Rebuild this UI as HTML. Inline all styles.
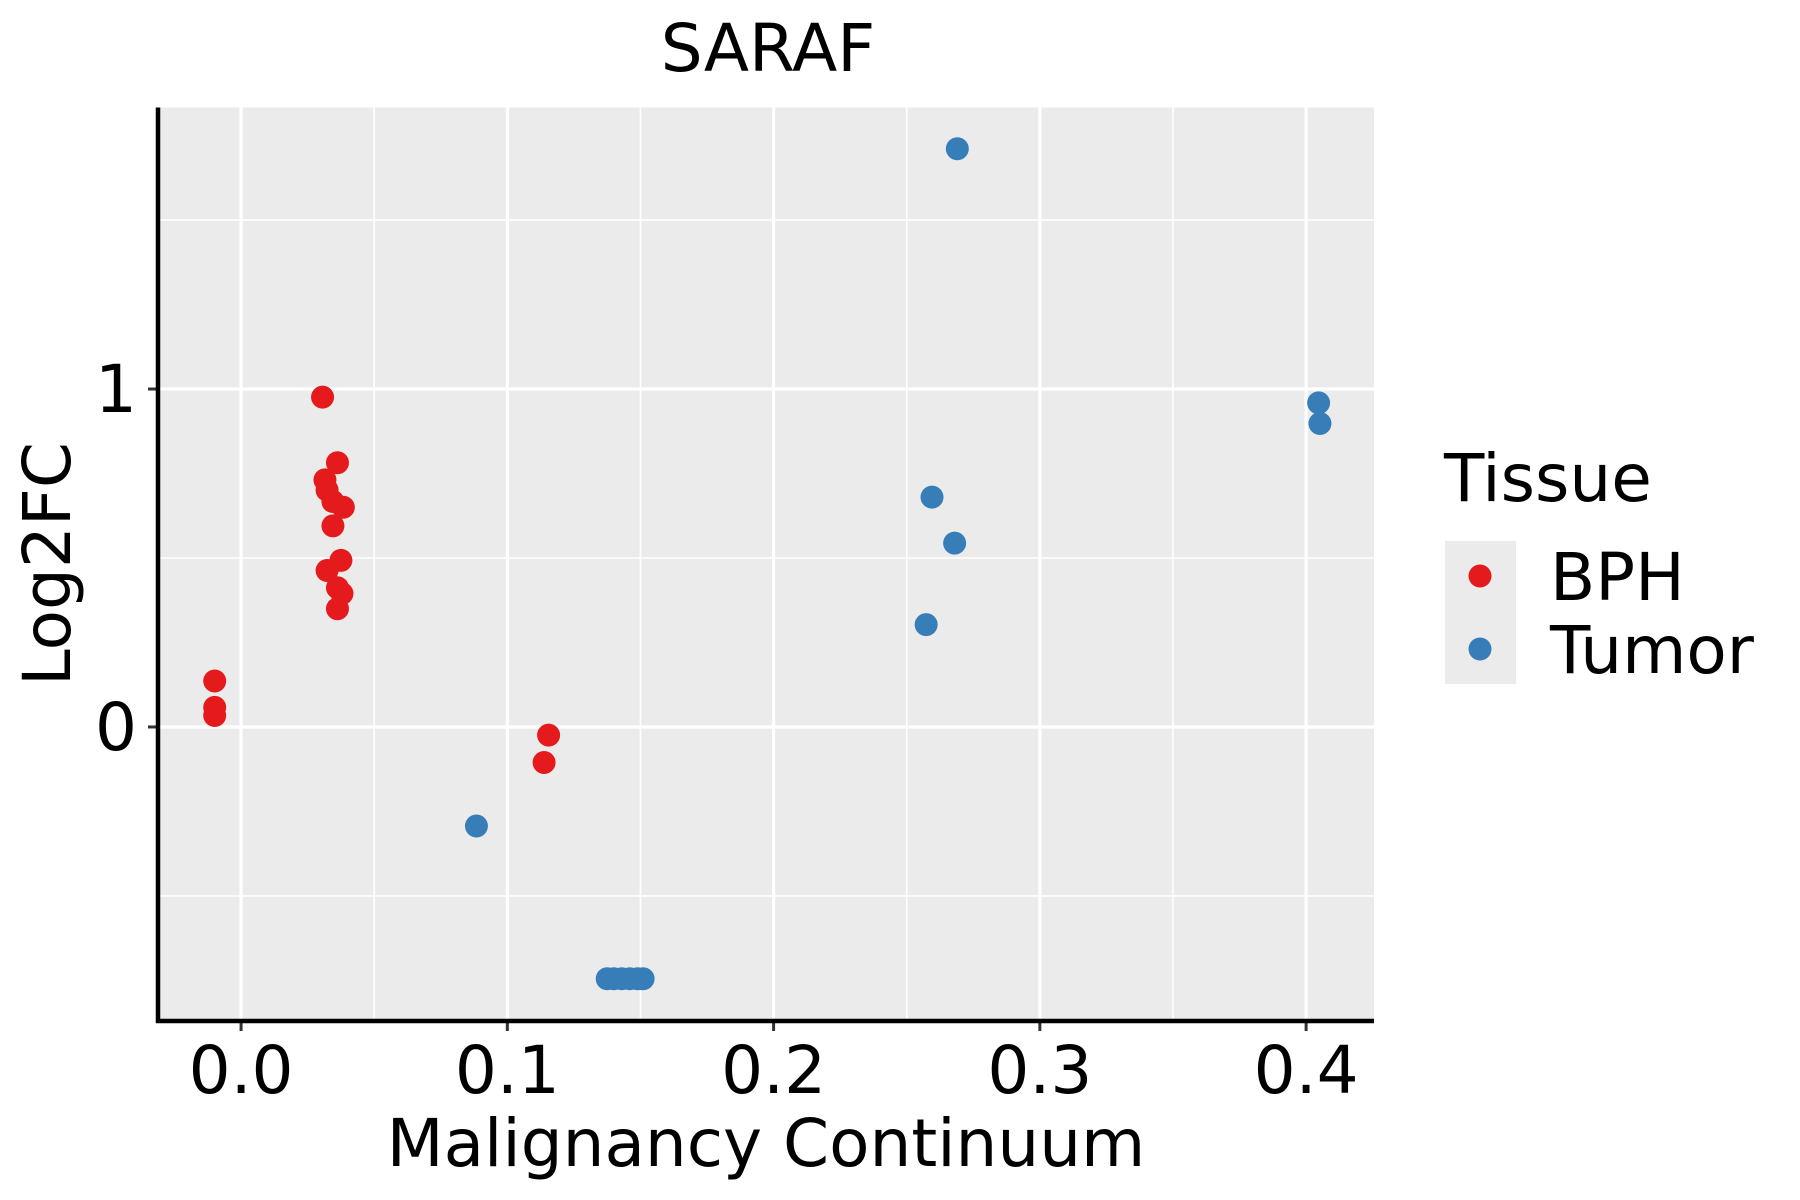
<!DOCTYPE html>
<html><head><meta charset="utf-8"><style>
html,body{margin:0;padding:0;background:#fff;}
svg{display:block;font-family:"DejaVu Sans","Liberation Sans",sans-serif;}
</style></head><body>
<svg id="chart" width="1800" height="1200" viewBox="0 0 1800 1200">
<rect x="0" y="0" width="1800" height="1200" fill="#fff"/>
<text x="768" y="71" font-size="66" text-anchor="middle">SARAF</text>
<g id="grid"></g>
<g id="points"></g>
<g id="axes"></g>
<text x="766" y="1166" font-size="66" text-anchor="middle">Malignancy Continuum</text>
<text transform="translate(70,564) rotate(-90)" font-size="66" text-anchor="middle">Log2FC</text>
<g>
<text x="1444" y="501" font-size="66">Tissue</text>
<rect x="1445" y="541" width="71" height="143" fill="#ebebeb"/>
<circle cx="1480" cy="576" r="11.5" fill="#e41a1c"/>
<circle cx="1480" cy="649" r="11.5" fill="#377eb8"/>
<text x="1550" y="600" font-size="66">BPH</text>
<text x="1550" y="673" font-size="66">Tumor</text>
</g>
</svg>
<script>
const bphX=[-0.0099,-0.0099,-0.0099,0.0306,0.0362,0.0315,0.0323,0.0345,0.0384,0.0345,0.0375,0.0323,0.0362,0.0379,0.0362,0.1155,0.1138];
const bphY=[0.136,0.058,0.034,0.976,0.782,0.731,0.701,0.667,0.650,0.595,0.493,0.463,0.412,0.395,0.350,-0.024,-0.105];
const tumorX=[0.269,0.4047,0.4052,0.2595,0.268,0.2573,0.0884,0.1375,0.140,0.143,0.146,0.149,0.151];
const tumorY=[1.711,0.959,0.898,0.680,0.544,0.303,-0.293,-0.745,-0.745,-0.745,-0.745,-0.745,-0.745];
const xTicks=[0.0,0.1,0.2,0.3,0.4];
const xTickLabels=["0.0","0.1","0.2","0.3","0.4"];
const xMinor=[0.05,0.15,0.25,0.35];
const yTicks=[0,1];
const yTickLabels=["0","1"];
const yMinor=[-0.5,0.5,1.5];

const L=158,R=1374,T=107.5,B=1021;
const xMin=-0.0312,xMax=0.4255,yMin=-0.87,yMax=1.833;
function sx(v){return L+(v-xMin)/(xMax-xMin)*(R-L);}
function sy(v){return B-(v-yMin)/(yMax-yMin)*(B-T);}
const NS="http://www.w3.org/2000/svg";
function mk(tag,attrs,parent){const e=document.createElementNS(NS,tag);for(const k in attrs)e.setAttribute(k,attrs[k]);parent.appendChild(e);return e;}
const grid=document.getElementById('grid'),pts=document.getElementById('points'),axes=document.getElementById('axes');
let p=mk('rect',{x:L,y:T,width:R-L,height:B-T,fill:'#ebebeb'},grid);


xMinor.forEach(v=>{const e=mk('line',{x1:sx(v),x2:sx(v),y1:T,y2:B,stroke:'#fff','stroke-width':1.6},grid);

});
yMinor.forEach(v=>{const e=mk('line',{x1:L,x2:R,y1:sy(v),y2:sy(v),stroke:'#fff','stroke-width':1.6},grid);

});
xTicks.forEach((v,i)=>{const e=mk('line',{x1:sx(v),x2:sx(v),y1:T,y2:B,stroke:'#fff','stroke-width':3.2},grid);


const t=mk('line',{x1:sx(v),x2:sx(v),y1:B,y2:B+10,stroke:'#333','stroke-width':3},axes);


const l=mk('text',{x:sx(v),y:1093,'font-size':66,'text-anchor':'middle',fill:'#000'},axes);
l.textContent=xTickLabels[i];

});
yTicks.forEach((v,i)=>{const e=mk('line',{x1:L,x2:R,y1:sy(v),y2:sy(v),stroke:'#fff','stroke-width':3.2},grid);


const t=mk('line',{x1:L-10,x2:L,y1:sy(v),y2:sy(v),stroke:'#333','stroke-width':3},axes);


const l=mk('text',{x:137,y:sy(v)+23,'font-size':66,'text-anchor':'end',fill:'#000'},axes);
l.textContent=yTickLabels[i];

});
let ax=mk('line',{x1:L,x2:L,y1:T,y2:B+2,stroke:'#000','stroke-width':4.5},axes);


ax=mk('line',{x1:L-2,x2:R,y1:B,y2:B,stroke:'#000','stroke-width':4.5},axes);


bphX.forEach((v,i)=>{const c=mk('circle',{cx:sx(v),cy:sy(bphY[i]),r:11.5,fill:'#e41a1c'},pts);

});
tumorX.forEach((v,i)=>{const c=mk('circle',{cx:sx(v),cy:sy(tumorY[i]),r:11.5,fill:'#377eb8'},pts);

});
</script>
</body></html>
